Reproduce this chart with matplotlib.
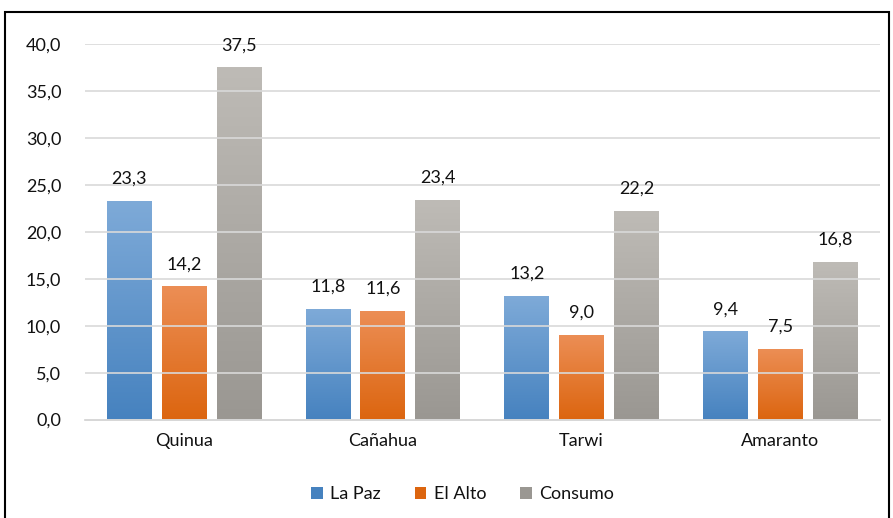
import numpy as np
import matplotlib

matplotlib.use('Agg')
import matplotlib.pyplot as plt
from matplotlib.colors import LinearSegmentedColormap
from matplotlib.patches import Rectangle

categories = ['Quinua', 'Cañahua', 'Tarwi', 'Amaranto']
series_names = ['La Paz', 'El Alto', 'Consumo']
la_paz = [23.3, 11.8, 13.2, 9.4]
el_alto = [14.2, 11.6, 9.0, 7.5]
consumo = [37.5, 23.4, 22.2, 16.8]

# top / bottom colours of each series gradient
gradients = [('#7eaad8', '#4682bf'), ('#ec8e55', '#dc650f'), ('#bebbb6', '#9a9792')]

plt.rcParams['font.family'] = ['Lato', 'DejaVu Sans']

fig = plt.figure(figsize=(8.93, 5.18), dpi=100)
ax = fig.add_axes([0.095, 0.19, 0.89, 0.725])

x = np.arange(len(categories))
width = 0.226
offsets = [-0.276, 0.0, 0.276]

grad = np.linspace(1, 0, 256).reshape(-1, 1)
for vals, off, (top, bot), name in zip([la_paz, el_alto, consumo], offsets,
                                       gradients, series_names):
    cmap = LinearSegmentedColormap.from_list(name, [bot, top])
    bars = ax.bar(x + off, vals, width, color='none', edgecolor='none',
                  label=name, zorder=3)
    for b, v in zip(bars, vals):
        x0, w, h = b.get_x(), b.get_width(), b.get_height()
        ax.imshow(grad, cmap=cmap, aspect='auto', extent=(x0, x0 + w, 0, h),
                  vmin=0, vmax=1, zorder=2)
        ax.text(x0 + w / 2, h + 1.5, f'{v:.1f}'.replace('.', ','),
                ha='center', va='bottom', fontsize=13, color='#111111')

ax.set_xlim(-0.5, len(categories) - 0.5)
ax.set_ylim(0, 40)
ax.set_yticks(np.arange(0, 45, 5))
ax.set_yticklabels([f'{t:.1f}'.replace('.', ',') for t in np.arange(0, 45, 5)],
                   fontsize=13, color='#111111')
ax.set_xticks(x)
ax.set_xticklabels(categories, fontsize=13, color='#111111')
ax.tick_params(axis='both', length=0)
ax.tick_params(axis='y', pad=17)
ax.tick_params(axis='x', pad=10)
ax.grid(axis='y', color='#d9d9d9', linewidth=1.2, zorder=2.5)
ax.set_axisbelow(False)
for s in ('top', 'right', 'left'):
    ax.spines[s].set_visible(False)
ax.spines['bottom'].set_color('#d0d0d0')
ax.spines['bottom'].set_linewidth(1.2)

handles = [Rectangle((0, 0), 1, 1, facecolor=g[1]) for g in gradients]
fig.legend(handles, series_names, loc='center', bbox_to_anchor=(0.518, 0.046),
           ncol=3, frameon=False, fontsize=13, handlelength=0.65,
           handleheight=0.65, handletextpad=0.4, columnspacing=1.9,
           labelcolor='#111111')

# chart frame
fig.add_artist(Rectangle((0.006, -0.1), 0.99, 1.077, transform=fig.transFigure,
                         fill=False, edgecolor='black', linewidth=1.5))

fig.savefig('out.png', dpi=100)
